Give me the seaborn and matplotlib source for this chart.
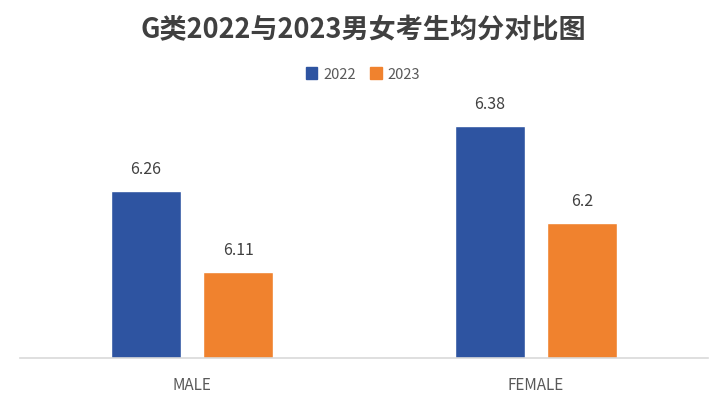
import matplotlib
matplotlib.use("Agg")
import matplotlib.pyplot as plt
import seaborn as sns
import pandas as pd

categories = ["MALE", "FEMALE"]
years = ["2022", "2023"]
values_2022 = [6.26, 6.38]
values_2023 = [6.11, 6.2]

rows = []
for c, v in zip(categories, values_2022):
    rows.append({"cat": c, "year": "2022", "val": v})
for c, v in zip(categories, values_2023):
    rows.append({"cat": c, "year": "2023", "val": v})
df = pd.DataFrame(rows)

sns.set_theme(style="white")
plt.rcParams['font.family'] = ['Noto Sans CJK SC', 'DejaVu Sans']

fig = plt.figure(figsize=(7.26, 4.06), dpi=100)
ax = fig.add_axes([20/726, 1-359/406, 688/726, (359-89)/406])

palette = {"2022": "#2E54A1", "2023": "#F0822E"}
sns.barplot(data=df, x="cat", y="val", hue="year", order=categories,
            hue_order=years, palette=palette, width=0.535, gap=0.24,
            saturation=1, ax=ax, legend=False)

ax.set_ylim(5.95, 6.45)
ax.set_xlim(-0.5, 1.5)
for side in ["top", "right", "left"]:
    ax.spines[side].set_visible(False)
ax.spines["bottom"].set_color("#D9D9D9")
ax.spines["bottom"].set_linewidth(1.2)
ax.set_yticks([])
ax.set_xlabel("")
ax.set_ylabel("")
ax.tick_params(axis="x", length=0, pad=13, labelsize=11, labelcolor="#595959")

for cont in ax.containers:
    for bar in cont:
        h = bar.get_height()
        ax.text(bar.get_x() + bar.get_width()/2, h + 0.025, f"{h:g}",
                ha="center", va="bottom", fontsize=11.5, color="#404040")

fig.text(0.5, 1-30/406, "G类2022与2023男女考生均分对比图", ha="center", va="center",
         fontsize=19.5, fontweight="bold", color="#404040")

from matplotlib.patches import Patch
handles = [Patch(color=palette[y], label=y) for y in years]
fig.legend(handles=handles, loc="center", bbox_to_anchor=(0.5, 1-75/406), ncol=2,
           frameon=False, fontsize=10.5, handlelength=0.8, handleheight=0.8,
           handletextpad=0.4, columnspacing=1.0, labelcolor="#595959")

fig.savefig("out.png", dpi=100)
